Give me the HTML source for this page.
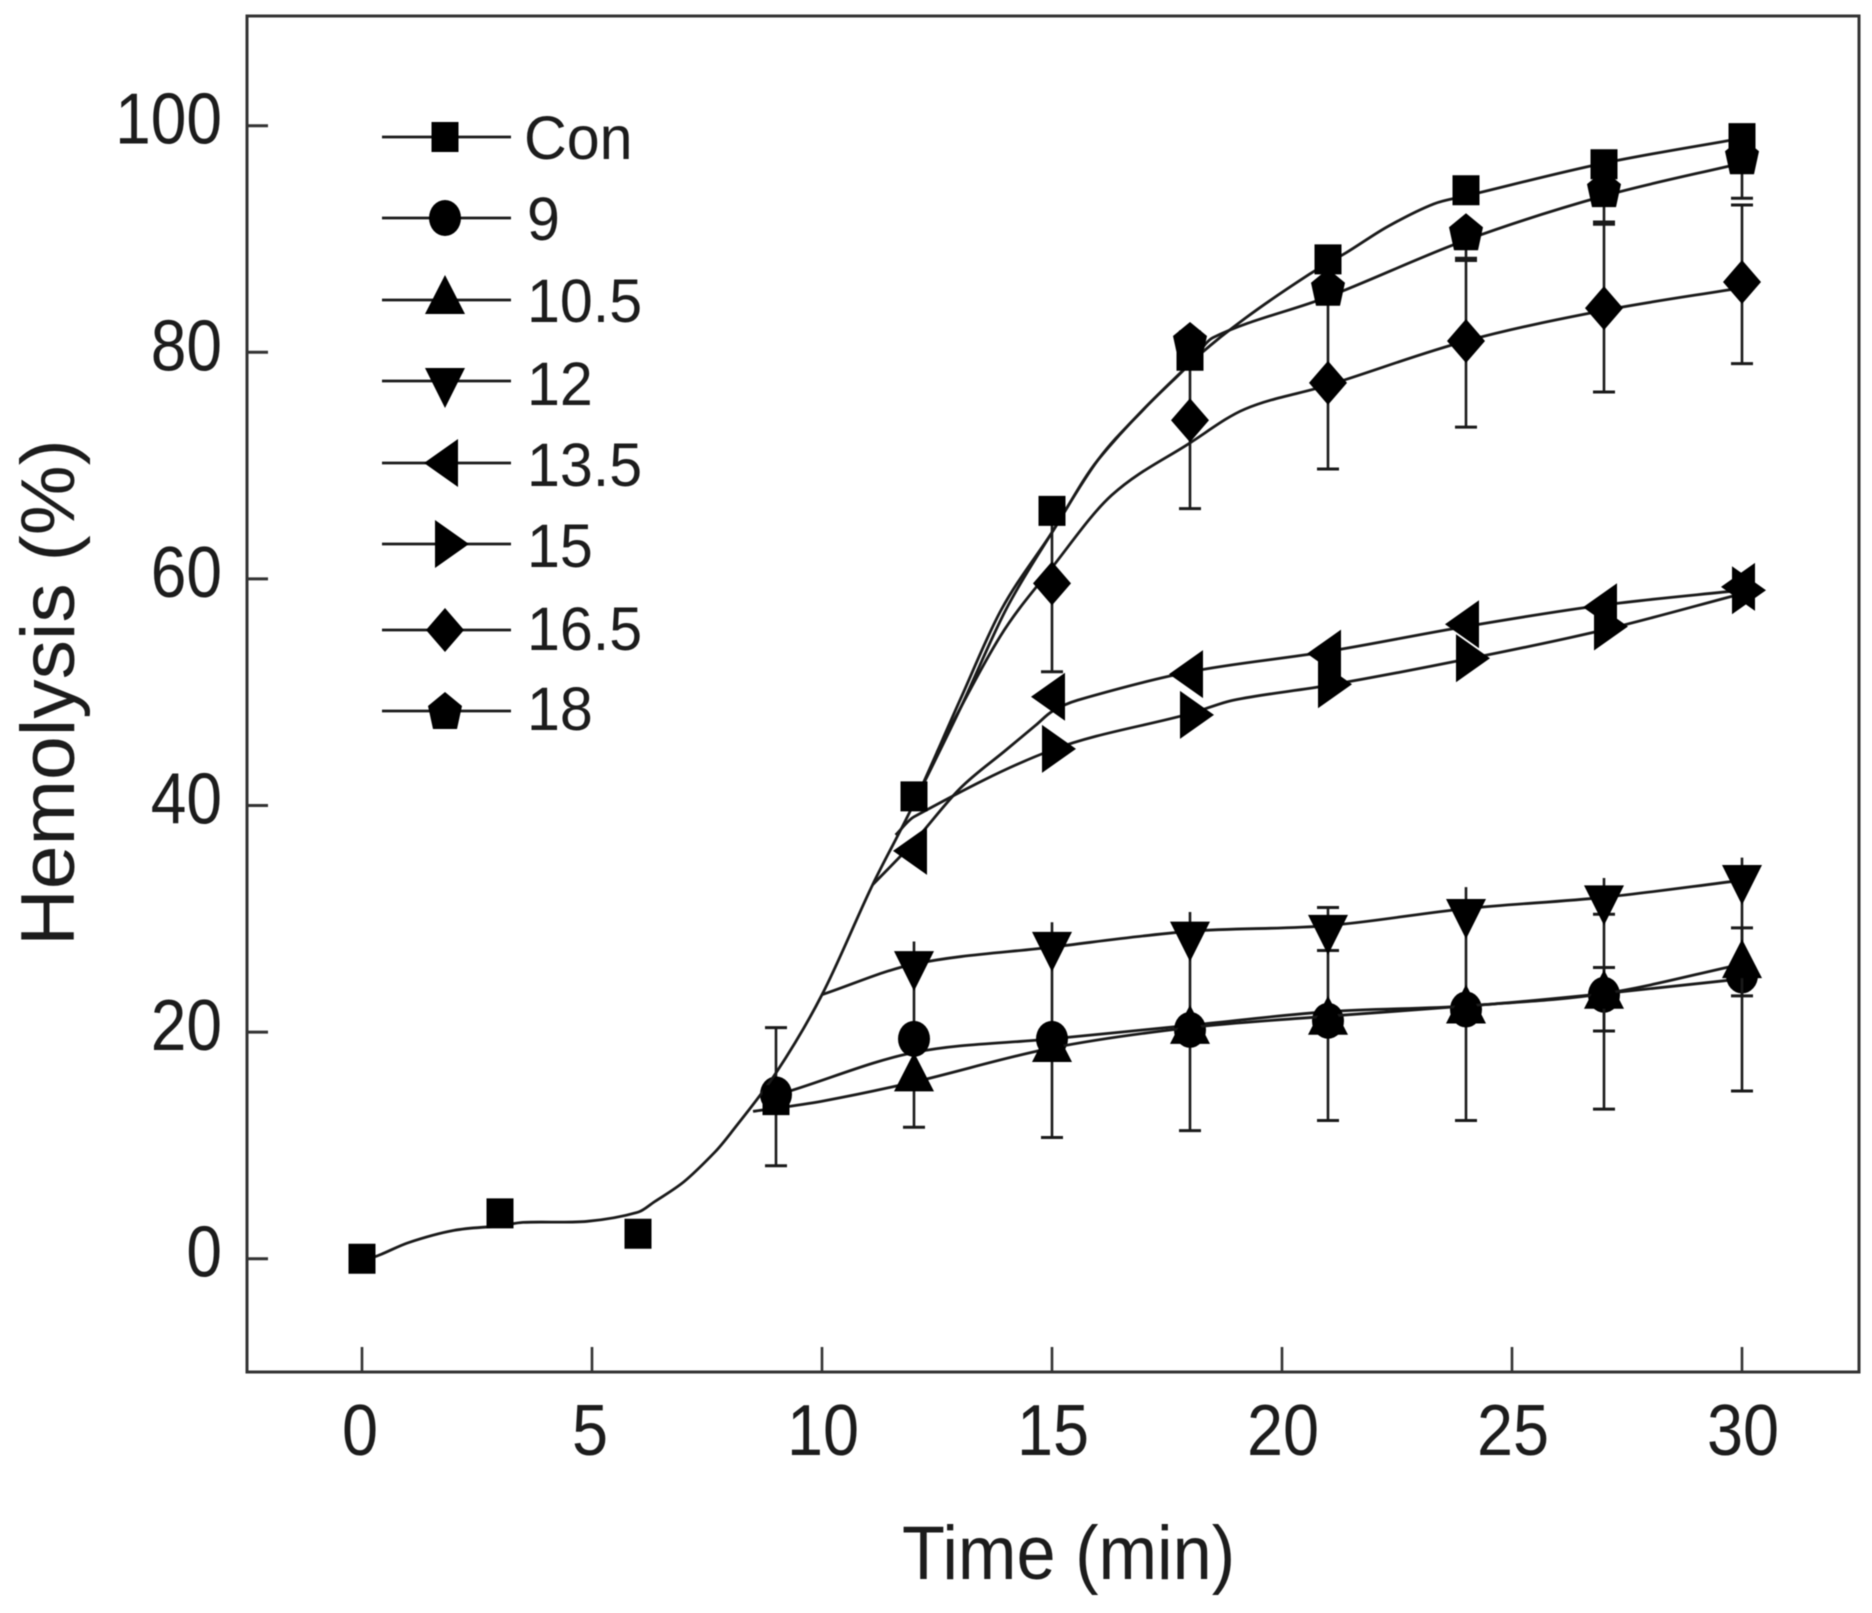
<!DOCTYPE html>
<html lang="en">
<head>
<meta charset="utf-8">
<title>Hemolysis over time</title>
<style>
html,body{margin:0;padding:0;background:#fff;width:1872px;height:1613px;overflow:hidden}
svg{display:block;filter:blur(0.6px)}
text{font-family:"Liberation Sans",sans-serif;fill:#1c1c1c}
</style>
</head>
<body>
<svg id="chart" xmlns="http://www.w3.org/2000/svg" width="1872" height="1613" viewBox="0 0 1872 1613">
  <rect x="0" y="0" width="1872" height="1613" fill="#fff"/>
  <rect x="247" y="16" width="1612" height="1356" fill="none" stroke="#333" stroke-width="3"/>
  <text transform="translate(902,1579) scale(0.925,1)" font-size="76">Time (min)</text>
  <text transform="translate(74,946) rotate(-90) scale(1.035,1)" font-size="76">Hemolysis (%)</text>
</svg>
<script>
var xTickValues = [0, 5, 10, 15, 20, 25, 30];
var yTickValues = [0, 20, 40, 60, 80, 100];
var legendLabels = ['Con', '9', '10.5', '12', '13.5', '15', '16.5', '18'];

var conTimes = [0, 3, 6, 9, 12, 15, 18, 21, 24, 27, 30];
var conValues = [0, 4, 2.2, 14, 40.8, 66, 79.7, 88.2, 94.3, 96.6, 98.9];
var conCurveX = [0, 0.3, 1, 2, 3, 3.5, 4.9, 6, 6.35, 7, 7.67, 8, 9, 10, 11.1, 12, 13, 13.9, 15, 16, 18, 19.2, 20.6, 21.4, 22.3, 23.3, 24, 27, 30];
var conCurveY = [0, 0.2, 1.4, 2.5, 2.9, 3.2, 3.3, 4.1, 5, 6.8, 9.4, 11, 16.4, 23.3, 33, 40.2, 49.3, 57.3, 64.1, 70.5, 79, 83, 86.9, 88.8, 91.1, 93.1, 93.8, 96.7, 98.9];

var s9Times = [9, 12, 15, 18, 21, 24, 27, 30];
var s9Values = [14.5, 19.4, 19.4, 20.2, 21, 22, 23.3, 25];
var s9Low = [8.2, 11.6, 10.7, 11.3, 12.2, 12.2, 13.2, 14.8];
var s9High = [20.4, 28, 29.7, 30.6, 31, 32.8, 33.6, 35.4];
var s9HighCapped = [true, false, false, false, true, false, false, false];
var s9CurveX = [9.3, 12, 15, 18, 21, 24, 27, 30];
var s9CurveY = [14.8, 18.2, 19.4, 20.6, 21.8, 22.3, 23.4, 24.7];

var s105Times = [12, 15, 18, 21, 24, 27, 30];
var s105Values = [16, 18.6, 20.2, 21, 22, 23.3, 26];
var s105Low = [null, null, null, null, null, 20.1, 23.2];
var s105High = [null, null, null, null, null, 25.7, 29.2];
var s105CurveX = [8.5, 10, 12, 15, 18, 21, 24, 27, 30];
var s105CurveY = [13, 13.9, 15.6, 18.6, 20.4, 21.4, 22.3, 23.4, 26];

var s12Times = [12, 15, 18, 21, 24, 27, 30];
var s12Values = [26, 27.7, 28.6, 29.2, 30.6, 31.8, 33.6];
var s12Low = [null, null, null, 27.2, null, 30.4, null];
var s12High = [null, null, null, null, null, null, null];
var s12CurveX = [10, 12, 15, 18, 21, 24, 27, 30];
var s12CurveY = [23.3, 26, 27.5, 28.9, 29.4, 30.9, 31.9, 33.4];

var s135Times = [12, 15, 18, 21, 24, 27, 30];
var s135Values = [36, 49.6, 51.6, 53.4, 56, 57.5, 59.3];
var s135CurveX = [11.1, 12, 13, 14, 14.65, 15, 15.56, 18, 21, 24, 27, 30];
var s135CurveY = [33, 36.8, 41.5, 44.9, 47.1, 48.3, 49.3, 51.8, 53.6, 55.8, 57.7, 59];

var s15Times = [15, 18, 21, 24, 27, 30];
var s15Values = [45, 48, 50.7, 53, 55.8, 59];
var s15CurveX = [11.6, 12, 15, 18, 18.95, 21, 24, 27, 30];
var s15CurveY = [37.4, 39, 44.9, 48.1, 49.3, 50.6, 52.9, 55.5, 58.7];

var s165Times = [15, 18, 21, 24, 27, 30];
var s165Values = [59.6, 74, 77.3, 81, 83.9, 86.2];
var s165Low = [51.8, 66.2, 69.7, 73.4, 76.5, 79];
var s165High = [66.5, 81.8, 85, 88.1, 91.3, 93];
var s165CurveX = [12.5, 13.87, 15, 16.3, 18, 19.2, 21, 24, 27, 30];
var s165CurveY = [44.7, 54.9, 61, 67.4, 72, 75, 77.1, 81, 83.7, 85.7];

var s18Times = [18, 21, 24, 27, 30];
var s18Values = [81, 85.7, 90.6, 94.4, 97.3];
var s18Low = [null, null, 88.3, 91.5, 93.6];
var s18High = [null, null, null, null, null];
var s18CurveX = [12, 13, 14, 15, 16, 17, 18, 18.5, 21, 24, 27, 30];
var s18CurveY = [40.2, 48.5, 57.3, 64.1, 70.5, 75, 79, 81.3, 84.9, 89.9, 93.8, 96.7];

var SVG_NS = 'http://www.w3.org/2000/svg';
var chart = document.getElementById('chart');
var INK = '#1a1a1a';

function xScale(v) { return 362 + v * 46; }
function yScale(v) { return 1258.7 - v * 11.33; }

function make(tag, attrs, parent) {
  var el = document.createElementNS(SVG_NS, tag);
  for (var k in attrs) { el.setAttribute(k, attrs[k]); }
  parent.appendChild(el);
  return el;
}

var MARKER_SHAPES = {
  square: [[-13.5,-15],[13.5,-15],[13.5,15],[-13.5,15]],
  up: [[0,-25],[20,14],[-20,14]],
  down: [[-20,-13],[20,-13],[0,27]],
  left: [[-21,0],[13,-24],[13,24]],
  right: [[-10,-24],[24,0],[-10,24]],
  diamond: [[0,-22],[19,0],[0,22],[-19,0]],
  pentagon: [[0,-19],[17,-5],[12,18],[-12,18],[-17,-5]]
};

function drawMarker(shape, cx, cy, parent) {
  if (shape === 'circle') {
    return make('ellipse', { cx: cx, cy: cy, rx: 16, ry: 18, fill: '#000' }, parent);
  }
  var pts = MARKER_SHAPES[shape].map(function (p) { return (cx + p[0]) + ',' + (cy + p[1]); }).join(' ');
  return make('polygon', { points: pts, fill: '#000' }, parent);
}

function curvePath(xs, ys) {
  var px = xs.map(xScale);
  var py = ys.map(yScale);
  var n = px.length;
  var slopes = [];
  for (var i = 0; i < n; i++) {
    var a = Math.max(i - 1, 0);
    var b = Math.min(i + 1, n - 1);
    slopes.push((py[b] - py[a]) / (px[b] - px[a]));
  }
  var d = 'M' + px[0].toFixed(1) + ' ' + py[0].toFixed(1);
  for (var j = 0; j < n - 1; j++) {
    var dx = (px[j + 1] - px[j]) / 3;
    d += ' C' + (px[j] + dx).toFixed(1) + ' ' + (py[j] + slopes[j] * dx).toFixed(1) +
         ' ' + (px[j + 1] - dx).toFixed(1) + ' ' + (py[j + 1] - slopes[j + 1] * dx).toFixed(1) +
         ' ' + px[j + 1].toFixed(1) + ' ' + py[j + 1].toFixed(1);
  }
  return d;
}

function drawErrors(times, low, high, values, capped, parent) {
  times.forEach(function (t, i) {
    var x = xScale(t);
    var hasLow = low && low[i] !== null;
    var hasHigh = high && high[i] !== null;
    if (!hasLow && !hasHigh) { return; }
    var top = hasHigh ? high[i] : values[i];
    var bottom = hasLow ? low[i] : values[i];
    var stem = make('line', { x1: x, x2: x, y1: yScale(top), y2: yScale(bottom), stroke: INK, 'stroke-width': 2.6 }, parent);
    
    
    if (hasHigh && (!capped || capped[i])) {
      var capHigh = make('line', { x1: x - 11, x2: x + 11, y1: yScale(high[i]), y2: yScale(high[i]), stroke: INK, 'stroke-width': 3 }, parent);
      
      
    }
    if (hasLow) {
      var capLow = make('line', { x1: x - 11, x2: x + 11, y1: yScale(low[i]), y2: yScale(low[i]), stroke: INK, 'stroke-width': 3 }, parent);
      
      
    }
  });
}

/* ticks */
xTickValues.forEach(function (v) {
  var x = xScale(v);
  var tick = make('line', { x1: x, x2: x, y1: 1372, y2: 1347, stroke: '#333', 'stroke-width': 2.6 }, chart);
  
  
  var labelX = v >= 10 ? x + 1 : x - 2;
  var label = make('text', { transform: 'translate(' + labelX + ',1455) scale(0.9,1)', 'font-size': 72, 'text-anchor': 'middle' }, chart);
  label.textContent = String(v);
  
  
});
yTickValues.forEach(function (v) {
  var y = yScale(v);
  var tick = make('line', { x1: 247, x2: 268, y1: y, y2: y, stroke: '#333', 'stroke-width': 3 }, chart);
  
  
  var label = make('text', { transform: 'translate(222,' + (y + 18) + ') scale(0.89,1)', 'font-size': 72, 'text-anchor': 'end' }, chart);
  label.textContent = String(v);
  
  
});

/* series */
function drawSeries(name, shape, times, values, curveX, curveY, low, high, capped) {
  var group = make('g', {}, chart);
  
  
  drawErrors(times, low, high, values, capped, group);
  var line = make('path', { d: curvePath(curveX, curveY), fill: 'none', stroke: INK, 'stroke-width': 2.8 }, group);
  
  
  times.forEach(function (t, i) {
    var m = drawMarker(shape, xScale(t), yScale(values[i]), group);
    
    
  });
}

drawSeries('9', 'circle', s9Times, s9Values, s9CurveX, s9CurveY, s9Low, s9High, s9HighCapped);
drawSeries('10-5', 'up', s105Times, s105Values, s105CurveX, s105CurveY, s105Low, s105High, null);
drawSeries('12', 'down', s12Times, s12Values, s12CurveX, s12CurveY, s12Low, s12High, null);
drawSeries('13-5', 'left', s135Times, s135Values, s135CurveX, s135CurveY, null, null, null);
drawSeries('15', 'right', s15Times, s15Values, s15CurveX, s15CurveY, null, null, null);
drawSeries('16-5', 'diamond', s165Times, s165Values, s165CurveX, s165CurveY, s165Low, s165High, null);
drawSeries('18', 'pentagon', s18Times, s18Values, s18CurveX, s18CurveY, s18Low, s18High, null);
drawSeries('con', 'square', conTimes, conValues, conCurveX, conCurveY, null, null, null);

/* legend */
var legendShapes = ['square', 'circle', 'up', 'down', 'left', 'right', 'diamond', 'pentagon'];
var legendRowY = [137, 218, 300, 381, 463, 544, 630, 711];
var legendBaseY = [159, 240, 322, 405, 486, 567, 650, 730];
var legend = make('g', {}, chart);


legendLabels.forEach(function (label, i) {
  var entry = make('g', {}, legend);
  
  
  var swatch = make('line', { x1: 382, x2: 511, y1: legendRowY[i], y2: legendRowY[i], stroke: INK, 'stroke-width': 2.8 }, entry);
  
  
  var mark = drawMarker(legendShapes[i], 445, legendRowY[i], entry);
  
  
  var text = make('text', { transform: 'translate(' + (i === 0 ? 524 : 527) + ',' + legendBaseY[i] + ') scale(0.97,1)', 'font-size': 61 }, entry);
  text.textContent = label;
  
  
});
</script>
</body>
</html>
